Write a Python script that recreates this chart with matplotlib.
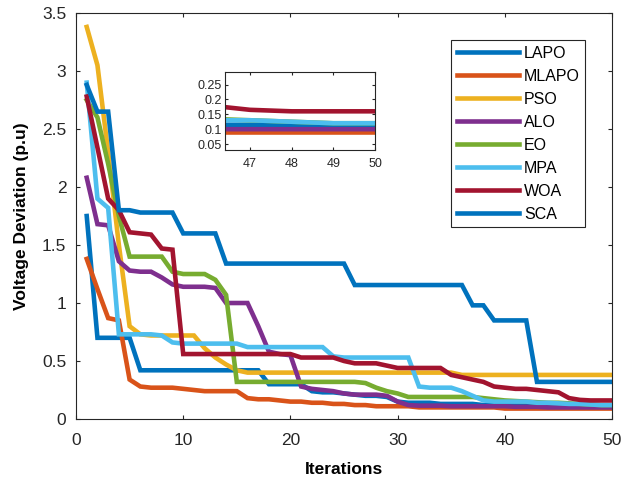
import matplotlib
matplotlib.use("Agg")
import matplotlib.pyplot as plt
import numpy as np

plt.rcParams['font.family'] = ['Liberation Sans', 'DejaVu Sans']

# iteration axis
iterations = np.arange(1, 51)

# voltage deviation per algorithm
lapo = [1.75, 0.70, 0.70, 0.70, 0.70, 0.42, 0.42, 0.42, 0.42, 0.42,
        0.42, 0.42, 0.42, 0.42, 0.42, 0.42, 0.42, 0.30, 0.30, 0.30,
        0.30, 0.24, 0.23, 0.23, 0.22, 0.21, 0.20, 0.20, 0.19, 0.15,
        0.14, 0.14, 0.14, 0.13, 0.13, 0.13, 0.13, 0.12, 0.12, 0.12,
        0.12, 0.12, 0.12, 0.12, 0.12, 0.115, 0.115, 0.115, 0.115, 0.115]
mlapo = [1.38, 1.12, 0.87, 0.85, 0.34, 0.28, 0.27, 0.27, 0.27, 0.26,
         0.25, 0.24, 0.24, 0.24, 0.24, 0.18, 0.17, 0.17, 0.16, 0.15,
         0.15, 0.14, 0.14, 0.13, 0.13, 0.12, 0.12, 0.11, 0.11, 0.11,
         0.11, 0.10, 0.10, 0.10, 0.10, 0.10, 0.10, 0.10, 0.10, 0.09,
         0.09, 0.09, 0.09, 0.09, 0.09, 0.09, 0.09, 0.09, 0.09, 0.09]
pso = [3.38, 3.05, 2.30, 1.50, 0.80, 0.73, 0.72, 0.72, 0.72, 0.72,
       0.72, 0.61, 0.53, 0.47, 0.42, 0.40, 0.40, 0.40, 0.40, 0.40,
       0.40, 0.40, 0.40, 0.40, 0.40, 0.40, 0.40, 0.40, 0.40, 0.40,
       0.40, 0.40, 0.40, 0.40, 0.40, 0.38, 0.38, 0.38, 0.38, 0.38,
       0.38, 0.38, 0.38, 0.38, 0.38, 0.38, 0.38, 0.38, 0.38, 0.38]
alo = [2.08, 1.68, 1.67, 1.36, 1.28, 1.27, 1.27, 1.22, 1.16, 1.14,
       1.14, 1.14, 1.13, 1.00, 1.00, 1.00, 0.80, 0.58, 0.56, 0.55,
       0.28, 0.26, 0.25, 0.24, 0.22, 0.21, 0.21, 0.21, 0.20, 0.15,
       0.12, 0.115, 0.115, 0.115, 0.11, 0.11, 0.11, 0.11, 0.11, 0.11,
       0.105, 0.105, 0.105, 0.10, 0.10, 0.10, 0.10, 0.10, 0.10, 0.10]
eo = [2.75, 2.60, 2.20, 1.75, 1.40, 1.40, 1.40, 1.40, 1.27, 1.25,
      1.25, 1.25, 1.20, 1.07, 0.32, 0.32, 0.32, 0.32, 0.32, 0.32,
      0.32, 0.32, 0.32, 0.32, 0.32, 0.32, 0.31, 0.27, 0.24, 0.22,
      0.19, 0.19, 0.19, 0.19, 0.19, 0.19, 0.19, 0.18, 0.17, 0.16,
      0.155, 0.15, 0.145, 0.14, 0.14, 0.135, 0.13, 0.125, 0.12, 0.12]
mpa = [2.90, 1.90, 1.82, 0.73, 0.73, 0.73, 0.73, 0.72, 0.66, 0.65,
       0.65, 0.65, 0.65, 0.65, 0.65, 0.62, 0.62, 0.62, 0.62, 0.62,
       0.62, 0.62, 0.62, 0.54, 0.53, 0.53, 0.53, 0.53, 0.53, 0.53,
       0.53, 0.28, 0.27, 0.27, 0.27, 0.24, 0.20, 0.16, 0.15, 0.15,
       0.15, 0.15, 0.14, 0.14, 0.135, 0.13, 0.13, 0.125, 0.12, 0.12]
woa = [2.78, 2.34, 1.90, 1.80, 1.61, 1.60, 1.59, 1.47, 1.46, 0.56,
       0.56, 0.56, 0.56, 0.56, 0.56, 0.56, 0.56, 0.56, 0.56, 0.56,
       0.53, 0.53, 0.53, 0.53, 0.50, 0.48, 0.48, 0.48, 0.46, 0.44,
       0.44, 0.44, 0.44, 0.44, 0.38, 0.36, 0.34, 0.32, 0.28, 0.27,
       0.26, 0.26, 0.25, 0.24, 0.23, 0.18, 0.165, 0.16, 0.16, 0.16]
sca = [2.88, 2.65, 2.65, 1.80, 1.80, 1.78, 1.78, 1.78, 1.78, 1.60,
       1.60, 1.60, 1.60, 1.34, 1.34, 1.34, 1.34, 1.34, 1.34, 1.34,
       1.34, 1.34, 1.34, 1.34, 1.34, 1.155, 1.155, 1.155, 1.155, 1.155,
       1.155, 1.155, 1.155, 1.155, 1.155, 1.155, 0.98, 0.98, 0.85, 0.85,
       0.85, 0.85, 0.32, 0.32, 0.32, 0.32, 0.32, 0.32, 0.32, 0.32]

labels = ['LAPO', 'MLAPO', 'PSO', 'ALO', 'EO', 'MPA', 'WOA', 'SCA']
series = [lapo, mlapo, pso, alo, eo, mpa, woa, sca]
colors = ['#0072BD', '#D95319', '#EDB120', '#7E2F8E',
          '#77AC30', '#4DBEEE', '#A2142F', '#0072BD']

FRAME = '#262626'


def style_axes(ax, size, pad):
    ax.tick_params(direction='in', top=True, right=True, length=3,
                   width=0.8, colors=FRAME, labelsize=size, pad=pad)
    for sp in ax.spines.values():
        sp.set_color(FRAME)
        sp.set_linewidth(0.8)


fig = plt.figure(figsize=(6.24, 4.83), dpi=100)
ax = fig.add_axes([0.1218, 0.1325, 0.859, 0.8405])

for vals, lab, col in zip(series, labels, colors):
    ax.plot(iterations, vals, color=col, lw=3.3, label=lab,
            solid_joinstyle='miter')

ax.set_xlim(0, 50)
ax.set_ylim(0, 3.5)
ax.set_xticks(np.arange(0, 51, 10))
ax.set_yticks(np.arange(0, 3.51, 0.5))
ax.set_yticklabels(['0', '0.5', '1', '1.5', '2', '2.5', '3', '3.5'])
style_axes(ax, 12.5, 7)
ax.tick_params(axis='x', pad=10)
ax.set_xlabel('Iterations', fontsize=12.5, fontweight='bold', labelpad=10)
ax.set_ylabel('Voltage Deviation (p.u)', fontsize=12.5, fontweight='bold',
              labelpad=9)

leg = ax.legend(loc='upper right', bbox_to_anchor=(0.965, 0.953),
                fontsize=11.5, handlelength=3.9, handletextpad=0.3,
                labelspacing=0.5, borderpad=0.35, fancybox=False,
                framealpha=1, edgecolor=FRAME)
leg.get_frame().set_linewidth(0.8)

# zoomed inset on the last iterations
axin = fig.add_axes([0.3606, 0.6894, 0.2404, 0.1615])
for vals, lab, col in zip(series, labels, colors):
    axin.plot(iterations, vals, color=col, lw=3.3)
axin.set_xlim(46.4, 50)
axin.set_ylim(0.03, 0.292)
axin.set_xticks([47, 48, 49, 50])
axin.set_yticks([0.05, 0.1, 0.15, 0.2, 0.25])
axin.set_yticklabels(['0.05', '0.1', '0.15', '0.2', '0.25'])
style_axes(axin, 9, 2)
axin.tick_params(length=2)
axin.tick_params(axis='x', pad=6)

fig.savefig('out.png', dpi=100)
